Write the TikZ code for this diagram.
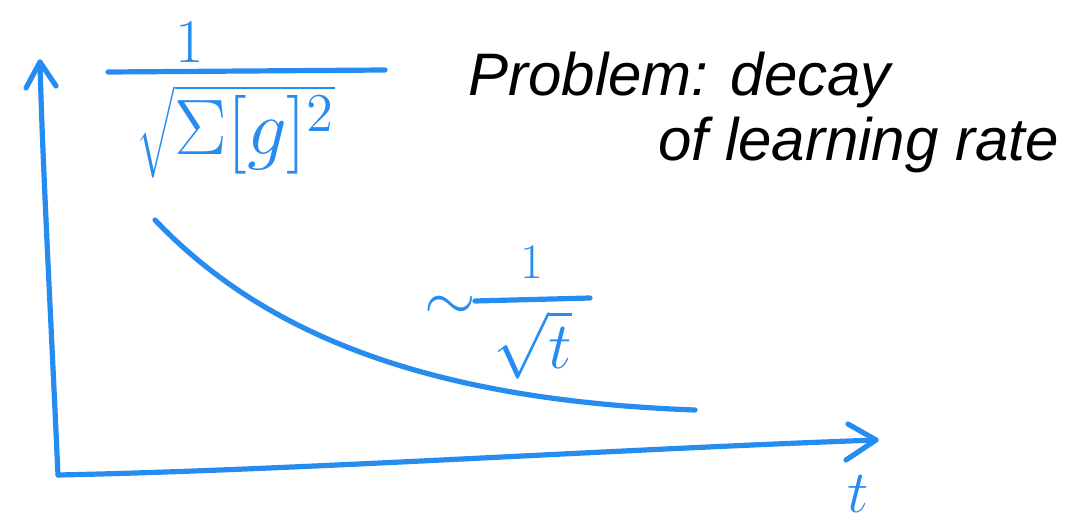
\documentclass[tikz,border=0pt]{standalone}
\usepackage{fontspec}
\setmainfont{Liberation Sans}
\usetikzlibrary{arrows.meta}
\definecolor{pen}{RGB}{38,140,240}
\begin{document}
\begin{tikzpicture}[x=0.5pt,y=-0.5pt,
  stroke/.style={draw=pen,line width=2.6pt,line cap=round,line join=round},
  bluetxt/.style={text=pen,inner sep=0pt,font=\fontsize{20}{24}\selectfont},
  blacktxt/.style={text=black,inner sep=0pt,font=\fontsize{30}{36}\selectfont\itshape}]
\useasboundingbox (0,0) rectangle (1077,530);
% axes
\coordinate (O) at (58,475);
\coordinate (ytop) at (40,62);
\coordinate (xend) at (876,440);
\draw[stroke] (O) .. controls (50,300) and (42,150) .. (ytop);
\draw[stroke] (26,88) -- (ytop) -- (56,86);
\draw[stroke] (O) .. controls (300,470) and (600,450) .. (xend);
\draw[stroke] (848,424) -- (xend) -- (846,460);
\node[bluetxt,scale=1.45] (t) at (858,494) {$t$};
% curve
\coordinate (c0) at (155,220);
\coordinate (c1) at (695,410);
\draw[stroke] (c0) .. controls (260,330) and (420,400) .. (c1);
% top formula
\node[bluetxt,scale=1.5] (one) at (190,42) {$1$};
\coordinate (b0) at (108,72);
\coordinate (b1) at (385,70);
\draw[stroke] (b0) -- (b1);
\node[bluetxt,scale=1.9] (den) at (236,132) {$\sqrt{\Sigma[g]^2}$};
% ~ 1/sqrt t
\node[bluetxt,scale=1.6] (tilde) at (450,308) {$\sim$};
\coordinate (f0) at (475,301);
\coordinate (f1) at (590,298);
\draw[stroke] (f0) -- (f1);
\node[bluetxt,scale=1.2] (one2) at (532,262) {$1$};
\node[bluetxt,scale=1.6] (sqt) at (533,345) {$\sqrt{t}$};
% black text
\node[blacktxt,anchor=west] (p1) at (468,80) {Problem: decay};
\node[blacktxt,anchor=west] (p2) at (658,145) {of learning rate};
\end{tikzpicture}
\end{document}
